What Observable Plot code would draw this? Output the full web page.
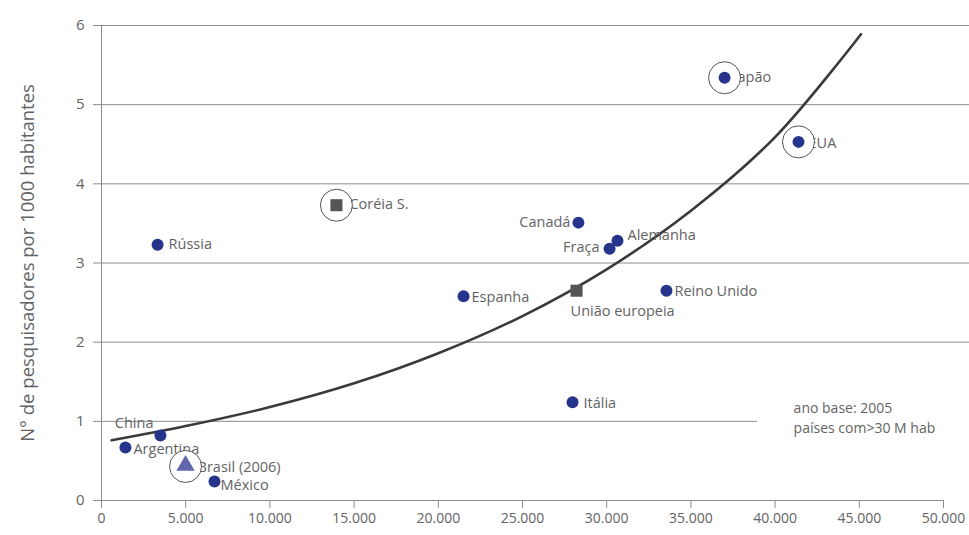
<!DOCTYPE html>
<html><head><meta charset="utf-8">
<script src="https://cdn.jsdelivr.net/npm/d3@7"></script>
<script src="https://cdn.jsdelivr.net/npm/@observablehq/plot@0.6"></script>
<style>body{margin:0;background:#fff} svg{font-family:"Open Sans",sans-serif}</style>
</head><body><div id="chart"></div>
<script>
// ---- data ----
const countries   = ["China","Argentina","Brasil (2006)","México","Rússia","Coréia S.","Espanha","Canadá","Alemanha","Fraça","União europeia","Reino Unido","Itália","Japão","EUA"];
const gdpPerCapita = [3500, 1420, 4990, 6710, 3330, 13950, 21500, 28320, 30640, 30170, 28210, 33550, 27970, 37000, 41390];
const researchers  = [0.82, 0.67, 0.43, 0.24, 3.23, 3.73, 2.58, 3.51, 3.28, 3.18, 2.65, 2.65, 1.24, 5.34, 4.53];
const markerKind   = ["dot","dot","triangle","dot","dot","square","dot","dot","dot","dot","square","dot","dot","dot","dot"];
const highlighted  = [false,false,true,false,false,true,false,false,false,false,false,false,false,true,true];
const trendX = [600, 5000, 10000, 15000, 20000, 25000, 30000, 35000, 40000, 45100];
const trendY = [0.76, 0.94, 1.18, 1.48, 1.86, 2.33, 2.92, 3.66, 4.59, 5.89];
const xTicks = [0, 5000, 10000, 15000, 20000, 25000, 30000, 35000, 40000, 45000, 50000];
const yTicks = [0, 1, 2, 3, 4, 5, 6];
const yTitle = "N° de pesquisadores por 1000 habitantes";
const notes  = ["ano base: 2005", "países com>30 M hab"];

// ---- build ----
const rows = countries.map((c, i) => ({name: c, x: gdpPerCapita[i], y: researchers[i], kind: markerKind[i], hl: highlighted[i]}));
const trend = trendX.map((x, i) => ({x, y: trendY[i]}));

// label placement (style)
const place = {
  "China": {dx: -7, dy: -12, a: "end"},
  "Argentina": {dx: 8, dy: 2, a: "start"},
  "Brasil (2006)": {dx: 12, dy: 1, a: "start"},
  "México": {dx: 6, dy: 4, a: "start"},
  "Rússia": {dx: 11, dy: 0, a: "start"},
  "Coréia S.": {dx: 13, dy: -1, a: "start"},
  "Espanha": {dx: 8, dy: 1, a: "start"},
  "Canadá": {dx: -8, dy: 0, a: "end"},
  "Alemanha": {dx: 10, dy: -5, a: "start"},
  "Fraça": {dx: -10, dy: -1, a: "end"},
  "União europeia": {dx: -6, dy: 21, a: "start"},
  "Reino Unido": {dx: 8, dy: 1, a: "start"},
  "Itália": {dx: 11, dy: 1, a: "start"},
  "Japão": {dx: 9, dy: 0, a: "start"},
  "EUA": {dx: 10, dy: 1, a: "start"}
};
const fmt = d => d3.format(",")(d).replace(/,/g, ".");
const xLeft = 0, xRight = 51544, xShort = 38955;
const textColor = "#636363";

const chart = Plot.plot({
  width: 969, height: 535,
  marginLeft: 101, marginRight: 26, marginTop: 25, marginBottom: 35,
  style: {fontFamily: "'Open Sans', sans-serif", background: "#fff"},
  x: {domain: [0, 50000], label: null},
  y: {domain: [0, 6], label: null},
  marks: [
    Plot.ruleY(yTicks.filter(d => d > 0), {y: d => d, x1: xLeft, x2: d => d === 1 ? xShort : xRight, stroke: "#8c8c8c", strokeWidth: 1}),
    Plot.ruleY([0], {x1: 0, x2: 50000, stroke: "#8c8c8c", strokeWidth: 1}),
    Plot.ruleX([0], {y1: 0, y2: 6, stroke: "#8c8c8c", strokeWidth: 1}),
    Plot.axisX({ticks: xTicks, tickFormat: fmt, tickSize: 8, tickPadding: 5, stroke: "#8c8c8c", color: textColor, fontSize: 14, label: null}),
    Plot.axisY({ticks: yTicks, tickFormat: d => String(d), tickSize: 8, tickPadding: 9, stroke: "#8c8c8c", color: textColor, fontSize: 15, label: null}),
    Plot.text([yTitle], {frameAnchor: "left", dx: -73, rotate: -90, textAnchor: "middle", text: d => d, fill: textColor, fontSize: 18.5}),
    Plot.line(trend, {x: "x", y: "y", curve: "catmull-rom", stroke: "#3a3a3a", strokeWidth: 2.6}),
    ...rows.map(r => Plot.text([r], {x: "x", y: "y", text: "name", dx: place[r.name].dx, dy: place[r.name].dy, textAnchor: place[r.name].a, fill: textColor, fontSize: 14.5})),
    Plot.dot(rows.filter(r => r.hl), {x: "x", y: "y", r: 16, fill: "white", stroke: "#555", strokeWidth: 1}),
    Plot.dot(rows.filter(r => r.kind === "dot"), {x: "x", y: "y", r: 6, fill: "#27348b"}),
    Plot.dot(rows.filter(r => r.kind === "square"), {x: "x", y: "y", r: 6.8, symbol: "square", fill: "#555555"}),
    Plot.dot(rows.filter(r => r.kind === "triangle"), {x: "x", y: "y", r: 6.8, symbol: "triangle", fill: "#6266ad", dy: -1}),
    Plot.text(notes, {x: 41100, y: (d, i) => [1.16, 0.91][i], text: d => d, textAnchor: "start", fill: textColor, fontSize: 14})
  ]
});
document.getElementById("chart").appendChild(chart);
</script>
</body></html>
